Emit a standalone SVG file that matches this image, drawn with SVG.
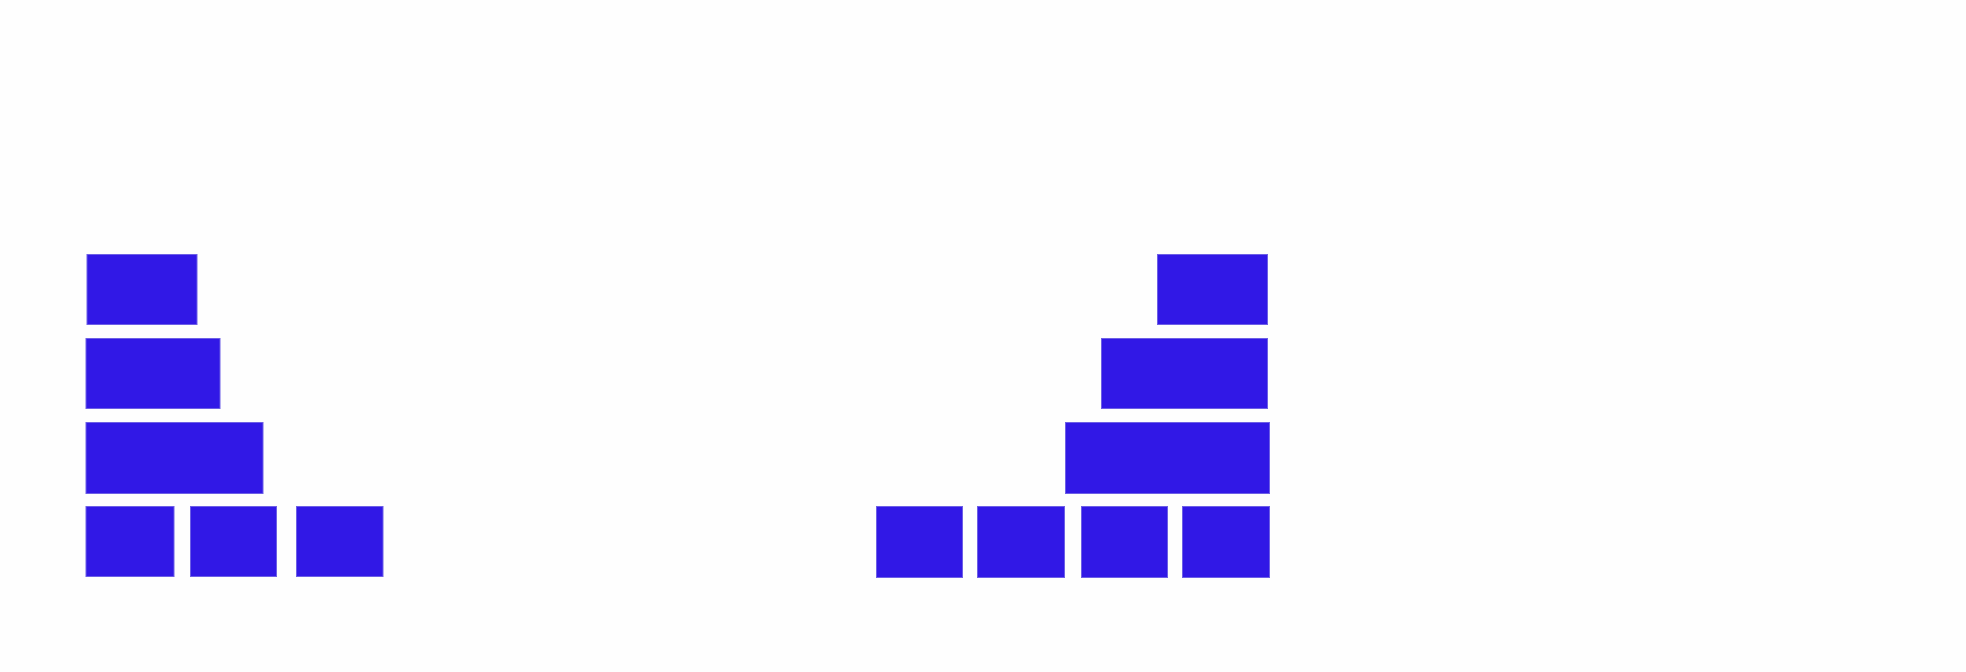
<svg xmlns="http://www.w3.org/2000/svg" width="1966" height="672" viewBox="0 0 1966 672">
<style>
.b{fill:#3118e6;stroke:#6d5fe6;stroke-width:1}
</style>
<rect x="0" y="0" width="1966" height="672" fill="#fefefe"/>
<g id="left">
<rect id="L1" class="b" x="87" y="254.5" width="110" height="70"/>
<rect id="L2" class="b" x="86" y="338.5" width="134" height="70"/>
<rect id="L3" class="b" x="86" y="422.5" width="177" height="71"/>
<rect id="L4a" class="b" x="86" y="506.5" width="88" height="70"/>
<rect id="L4b" class="b" x="190.5" y="506.5" width="86" height="70"/>
<rect id="L4c" class="b" x="296.5" y="506.5" width="86.5" height="70"/>
</g>
<g id="right">
<rect id="R1" class="b" x="1157.5" y="254.5" width="110" height="70"/>
<rect id="R2" class="b" x="1101.5" y="338.5" width="166" height="70"/>
<rect id="R3" class="b" x="1065.5" y="422.5" width="204" height="71"/>
<rect id="R4a" class="b" x="876.5" y="506.5" width="86" height="71"/>
<rect id="R4b" class="b" x="977.5" y="506.5" width="87" height="71"/>
<rect id="R4c" class="b" x="1081.5" y="506.5" width="86" height="71"/>
<rect id="R4d" class="b" x="1182.5" y="506.5" width="87" height="71"/>
</g>
<g id="connectors"/>
</svg>
